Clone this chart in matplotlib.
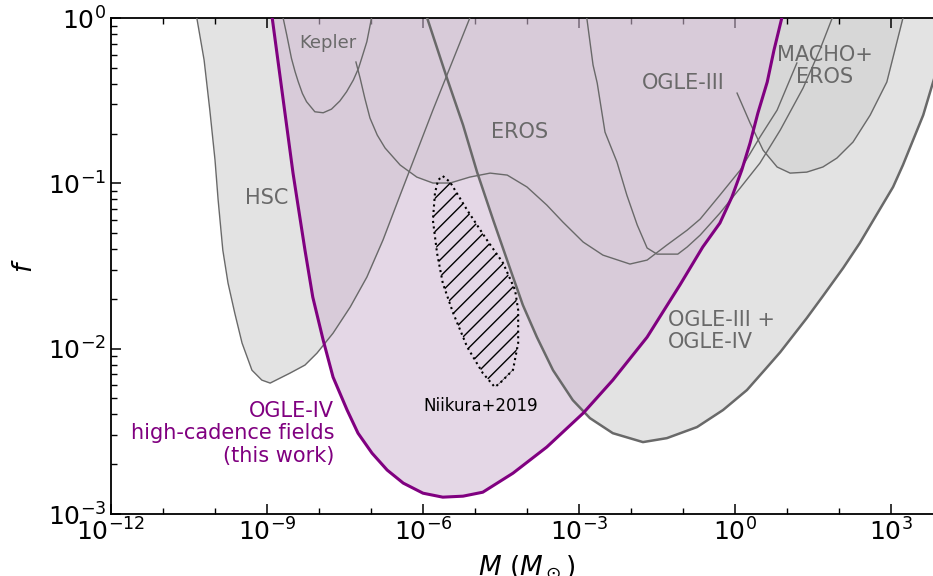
import matplotlib
matplotlib.use("Agg")
import matplotlib.pyplot as plt
import numpy as np
from matplotlib.ticker import NullFormatter

# boundaries of the excluded regions, log10(M/Msun) and log10(f)
hsc_logm = [-10.35, -10.21, -10.10, -10.00, -9.94, -9.85, -9.75, -9.62, -9.48, -9.29, -9.10, -8.94,
            -8.56, -8.27, -8.04, -7.73, -7.40, -7.08, -6.77, -6.44, -5.81, -5.10]
hsc_logf = [0.0, -0.254, -0.557, -0.859, -1.101, -1.404, -1.603, -1.785, -1.966, -2.130, -2.190, -2.208,
            -2.148, -2.099, -2.027, -1.906, -1.748, -1.567, -1.343, -1.071, -0.557, 0.0]

kepler_logm = [-8.69, -8.62, -8.53, -8.46, -8.40, -8.32, -8.24, -8.08, -7.92, -7.76, -7.60, -7.47,
               -7.34, -7.24, -7.15, -7.08, -6.99]
kepler_logf = [0.0, -0.103, -0.244, -0.325, -0.385, -0.456, -0.506, -0.567, -0.573, -0.551, -0.502, -0.446,
               -0.375, -0.304, -0.214, -0.143, 0.0]

eros_logm = [-7.29, -7.21, -7.12, -7.02, -6.88, -6.73, -6.44, -6.12, -5.81, -5.48, -5.10, -4.71, -4.38,
             -4.00, -3.62, -3.31, -2.92, -2.54, -2.02, -1.69, -1.31, -0.92, -0.67, -0.29, 0.10, 0.48,
             0.81, 1.19]
eros_logf = [-0.266, -0.363, -0.484, -0.605, -0.708, -0.786, -0.889, -0.962, -0.998, -0.998, -0.962, -0.938,
             -0.950, -1.022, -1.131, -1.234, -1.355, -1.434, -1.488, -1.464, -1.373, -1.283, -1.216, -1.071,
             -0.920, -0.720, -0.557, -0.272]

ogle3_logm = [-2.85, -2.73, -2.65, -2.50, -2.27, -2.08, -1.88, -1.69, -1.50, -1.10, -0.92, -0.67,
              -0.29, 0.10, 0.48, 0.87, 1.31, 1.63, 1.87]
ogle3_logf = [0.0, -0.284, -0.393, -0.690, -0.871, -1.071, -1.252, -1.391, -1.428, -1.428, -1.385, -1.313,
              -1.180, -1.028, -0.877, -0.678, -0.423, -0.194, 0.0]

macho_logm = [0.04, 0.29, 0.54, 0.81, 1.06, 1.38, 1.69, 1.96, 2.27, 2.60, 2.92, 3.23]
macho_logf = [-0.454, -0.635, -0.799, -0.901, -0.938, -0.932, -0.901, -0.847, -0.750, -0.587, -0.387, 0.0]

ogle34_logm = [-5.92, -5.54, -5.23, -4.96, -4.65, -4.33, -4.08, -3.81, -3.50, -3.12, -2.79, -2.35,
               -1.77, -1.31, -0.73, -0.23, 0.23, 0.62, 0.87, 1.38, 1.69, 2.08, 2.40, 2.73, 3.04,
               3.23, 3.62, 3.81, 4.0]
ogle34_logf = [0.0, -0.363, -0.647, -0.932, -1.222, -1.512, -1.736, -1.930, -2.130, -2.311, -2.420, -2.511,
               -2.565, -2.541, -2.474, -2.371, -2.250, -2.111, -2.021, -1.815, -1.682, -1.512, -1.361,
               -1.186, -1.022, -0.889, -0.587, -0.387, -0.194]

ogle4_logm = [-8.90, -8.50, -8.42, -8.27, -8.12, -7.92, -7.73, -7.46, -7.25, -6.98, -6.69, -6.38, -6.00,
              -5.62, -5.23, -4.85, -4.27, -3.62, -2.92, -2.35, -1.69, -1.06, -0.62, -0.29, -0.06, 0.13,
              0.29, 0.44, 0.62, 0.75, 0.90]
ogle4_logf = [0.0, -0.938, -1.101, -1.404, -1.688, -1.948, -2.172, -2.371, -2.511, -2.632, -2.734, -2.813,
              -2.874, -2.898, -2.892, -2.868, -2.753, -2.595, -2.390, -2.190, -1.930, -1.615, -1.385,
              -1.240, -1.083, -0.920, -0.756, -0.575, -0.387, -0.194, 0.0]

niikura_logm = [-5.62, -5.48, -5.15, -4.77, -4.46, -4.23, -4.17, -4.17, -4.27, -4.52, -4.62, -4.85,
                -5.15, -5.42, -5.62, -5.73, -5.81, -5.77, -5.71, -5.62]
niikura_logf = [-0.956, -0.992, -1.162, -1.343, -1.482, -1.645, -1.766, -1.966, -2.129, -2.208, -2.232, -2.148,
                -1.990, -1.785, -1.603, -1.422, -1.222, -1.059, -0.980, -0.956]

gray_regions = [(hsc_logm, hsc_logf), (kepler_logm, kepler_logf), (eros_logm, eros_logf),
                (ogle3_logm, ogle3_logf), (macho_logm, macho_logf), (ogle34_logm, ogle34_logf)]

line_gray = "dimgray"
purple = "#800080"

fig = plt.figure(figsize=(9.33, 5.76), dpi=100)
ax = fig.add_axes([0.119, 0.1076, 0.8917, 0.8611])

# union of the older limits, all one shade
for lm, lf in gray_regions:
    ax.fill_between(10.0 ** np.array(lm), 10.0 ** np.array(lf), 1, color="#e3e3e3", lw=0, zorder=1)

# MACHO+EROS a bit darker, only outside the OGLE-IV region
o4m = np.array(ogle4_logm)
xm = np.union1d(macho_logm, o4m[(o4m > macho_logm[0]) & (o4m < macho_logm[-1])])
low = np.interp(xm, macho_logm, macho_logf)
up = np.where(xm < o4m[-1], np.interp(xm, ogle4_logm, ogle4_logf), 0.0)
ax.fill_between(10.0 ** xm, 10.0 ** low, 10.0 ** up, where=up > low, interpolate=True,
                color="#d7d7d7", lw=0, zorder=1.2)

# this work
ax.fill_between(10.0 ** o4m, 10.0 ** np.array(ogle4_logf), 1,
                color="#d0b9d3", alpha=0.57, lw=0, zorder=2)

for lm, lf in gray_regions[:-1]:
    ax.plot(10.0 ** np.array(lm), 10.0 ** np.array(lf), color=line_gray, lw=1.0, zorder=3)
ax.plot(10.0 ** np.array(ogle34_logm), 10.0 ** np.array(ogle34_logf), color=line_gray, lw=1.8, zorder=3)
ax.plot(10.0 ** o4m, 10.0 ** np.array(ogle4_logf), color=purple, lw=2.2, zorder=4)

ax.fill(10.0 ** np.array(niikura_logm), 10.0 ** np.array(niikura_logf), facecolor="none",
        edgecolor="black", hatch="//", linestyle=":", lw=1.5, zorder=3.5)

# labels
ax.text(10 ** -7.83, 10 ** -0.151, "Kepler", color=line_gray, fontsize=13, ha="center", va="center")
ax.text(10 ** -9.0, 10 ** -1.089, "HSC", color=line_gray, fontsize=15, ha="center", va="center")
ax.text(10 ** -4.15, 10 ** -0.690, "EROS", color=line_gray, fontsize=15, ha="center", va="center")
ax.text(10 ** -1.0, 10 ** -0.393, "OGLE-III", color=line_gray, fontsize=15, ha="center", va="center")
ax.text(10 ** 1.73, 10 ** -0.290, "MACHO+\nEROS", color=line_gray, fontsize=15, ha="center",
        va="center", linespacing=1.15)
ax.text(10 ** -1.29, 10 ** -1.894, "OGLE-III +\nOGLE-IV", color=line_gray, fontsize=15, ha="left",
        va="center", linespacing=1.15)
ax.text(10 ** -7.71, 10 ** -2.511, "OGLE-IV\nhigh-cadence fields\n(this work)", color=purple, fontsize=15,
        ha="right", va="center", multialignment="right", linespacing=1.15)
ax.text(10 ** -4.90, 10 ** -2.347, "Niikura+2019", color="black", fontsize=12, ha="center", va="center")

ax.set_xscale("log")
ax.set_yscale("log")
ax.set_xlim(1e-12, 1e4)
ax.set_ylim(1e-3, 1)
ax.set_xticks([10.0 ** k for k in range(-12, 4, 3)])
ax.set_xticks([10.0 ** k for k in range(-12, 5)], minor=True)
ax.xaxis.set_minor_formatter(NullFormatter())
ax.tick_params(which="both", direction="in", top=True, right=True, labelsize=18)
ax.tick_params(which="major", length=7.5, width=1.1)
ax.tick_params(which="minor", length=4, width=1.0)
for s in ax.spines.values():
    s.set_linewidth(1.3)

ax.set_xlabel(r"$M\ (M_\odot)$", fontsize=19, labelpad=5)
ax.set_ylabel(r"$f$", fontsize=19, labelpad=7)

fig.savefig("out.png", dpi=100)
